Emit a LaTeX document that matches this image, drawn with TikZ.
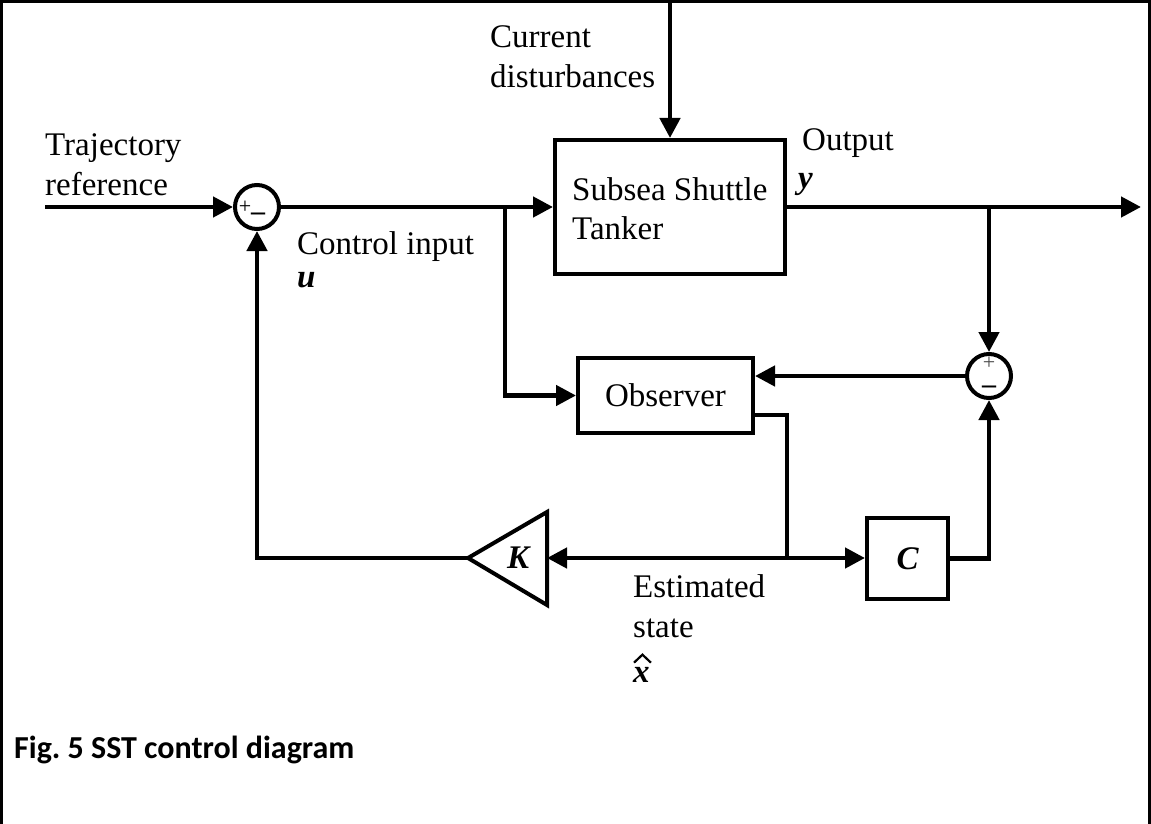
\documentclass[tikz,border=0pt]{standalone}
\usepackage{fontspec}
\setmainfont{Liberation Serif}
\newfontfamily\capfont{Carlito}
\usetikzlibrary{arrows.meta}
\begin{document}
\begin{tikzpicture}[x=1pt,y=-1pt,
  wire/.style={line width=4.5pt},
  arr/.style={wire,-{Triangle[length=20pt,width=20pt]}},
  blk/.style={draw,line width=4pt,inner sep=0pt},
  sumnode/.style={draw,circle,line width=4pt,minimum size=44pt,inner sep=0pt},
  lbl/.style={anchor=base west,inner sep=0pt,font=\fontsize{33}{40}\selectfont},
  sgn/.style={inner sep=0pt,font=\fontsize{22}{22}\selectfont},
  mns/.style={inner sep=0pt,font=\fontsize{28}{28}\selectfont\bfseries},
  var/.style={inner sep=0pt,font=\fontsize{33}{40}\selectfont\bfseries\itshape},
]
\useasboundingbox (0,0) rectangle (1151,824);
\draw[line width=3pt] (1.5,824) -- (1.5,1.5) -- (1149.5,1.5) -- (1149.5,824);

% blocks
\node[sumnode] (s1) at (257,207) {};
\node[sgn] (p1) at (245,207) {+};
\node[mns] (m1) at (258,217) {–};
\node[blk, minimum width=230pt, minimum height=134pt] (sst) at (670,207) {};
\node[lbl] (sst1) at (572,200) {Subsea Shuttle};
\node[lbl] (sst2) at (572,239) {Tanker};
\node[sumnode] (s2) at (989,376) {};
\node[sgn, text=black!70] (p2) at (989,363) {+};
\node[mns] (m2) at (989,390) {–};
\node[blk, minimum width=175pt, minimum height=75pt, font=\fontsize{33}{40}\selectfont] (obs) at (665.5,395.5) {Observer};
\node[blk, minimum size=81pt] (C) at (907.5,558.5) {};
\node[var] (Ct) at (907.5,558.5) {C};
\coordinate (kap) at (468,558);
\coordinate (kin) at (547,558);
\draw[line width=4pt, line join=miter] (kap) -- (547,512) -- (547,605) -- cycle;
\node[var] (K) at (518,558) {K};

% coordinates
\coordinate (rin) at (45,207);
\coordinate (dtop) at (670,0);
\coordinate (yend) at (1141,207);
\coordinate (b2) at (989,207);
\coordinate (b1) at (505,207);
\coordinate (oout) at (753,415);
\coordinate (o2) at (787,558);

% connectors
\draw[arr] (rin) -- (s1.west);
\draw[arr] (s1.east) -- (sst.west);
\draw[arr] (dtop) -- (sst.north);
\draw[arr] (sst.east) -- (yend);
\draw[arr] (b2) -- (s2.north);
\draw[arr] (s2.west) -- (s2.west -| obs.east);
\draw[arr] (b1) |- (obs.west);
\draw[wire] (oout) -| (o2);
\draw[arr] (o2) -- (kin);
\draw[arr] (o2) -- (o2 -| C.west);
\draw[arr] (C.east) -| (s2.south);
\draw[arr] (kap) -| (s1.south);

% labels
\node[lbl] (t1) at (45,155) {Trajectory};
\node[lbl] (t2) at (45,195) {reference};
\node[lbl] (ci) at (297,254) {Control input};
\node[var, anchor=base west] (u) at (297,287) {u};
\node[lbl] (cd1) at (490,48) {Current};
\node[lbl] (cd2) at (490,88) {disturbances};
\node[lbl] (out) at (802,150) {Output};
\node[var, anchor=base west] (yv) at (798,188) {y};
\node[lbl] (es1) at (633,597) {Estimated};
\node[lbl] (es2) at (633,637) {state};
\node[var, anchor=base west] (xh) at (633,682) {x};
\draw[line width=2.2pt, line join=miter]
  ([shift={(1,-4)}]xh.north west) -- ([shift={(1,-12)}]xh.north) -- ([shift={(1,-4)}]xh.north east);
\node[anchor=base west, inner sep=0pt, font=\capfont\bfseries\fontsize{32}{38}\selectfont] (cap) at (14,758) {Fig.\ 5 SST control diagram};
\end{tikzpicture}
\end{document}
